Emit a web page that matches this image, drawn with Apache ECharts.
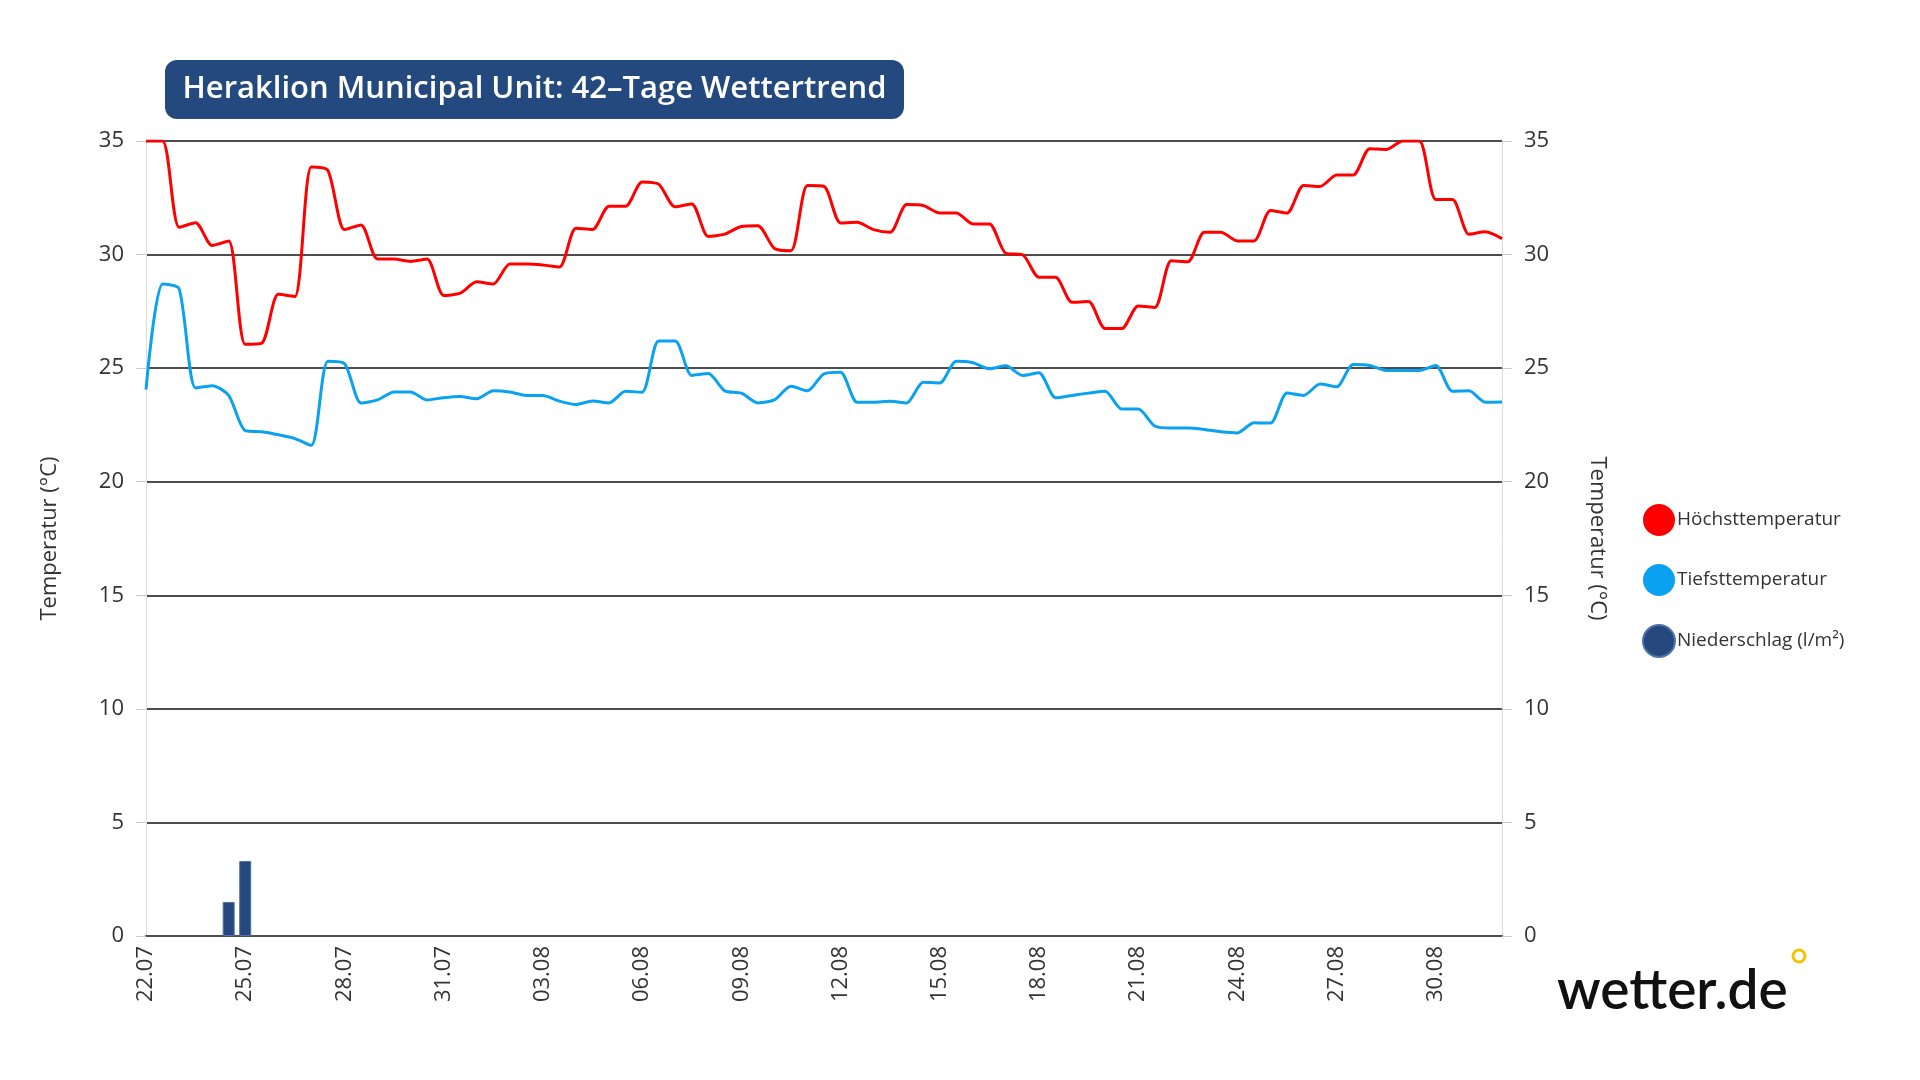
<!DOCTYPE html>
<html>
<head>
<meta charset="utf-8">
<title>Heraklion Municipal Unit: 42-Tage Wettertrend</title>
<script src="https://cdn.jsdelivr.net/npm/echarts@6/dist/echarts.min.js"></script>
<style>
  html, body { margin: 0; padding: 0; background: #fff; }
  #main { width: 1920px; height: 1080px; }
</style>
</head>
<body>
<div id="main"></div>
<script>
// Werte pro halbem Tag ab 22.07 (0, 0.5, 1, ... 41 Tage)
const hoechst = [
  35, 35, 31.2, 31.4, 30.4, 30.6, 26.05, 26.1, 28.25, 28.15,
  33.85, 33.7, 31.1, 31.3, 29.8, 29.8, 29.7, 29.8, 28.2, 28.3,
  28.8, 28.7, 29.58, 29.58, 29.54, 29.45, 31.16, 31.1, 32.13, 32.13,
  33.2, 33.1, 32.1, 32.23, 30.8, 30.9, 31.24, 31.27, 30.27, 30.17,
  33.04, 33.0, 31.39, 31.42, 31.1, 30.98, 32.2, 32.16, 31.83, 31.83,
  31.35, 31.35, 30.05, 30.0, 29.0, 29.0, 27.9, 27.93, 26.74, 26.74,
  27.74, 27.67, 29.73, 29.68, 30.98, 30.98, 30.6, 30.6, 31.94, 31.83,
  33.04, 33.0, 33.5, 33.5, 34.66, 34.63, 35, 35, 32.42, 32.42,
  30.9, 31.0, 30.7
];
const tiefst = [
  24.06, 28.7, 28.5, 24.13, 24.23, 23.8, 22.25, 22.2, 22.07, 21.9,
  21.6, 25.3, 25.2, 23.47, 23.6, 23.95, 23.95, 23.6, 23.7, 23.75,
  23.65, 24.0, 23.95, 23.8, 23.8, 23.55, 23.4, 23.55, 23.47, 23.98,
  23.94, 26.2, 26.2, 24.68, 24.76, 24.0, 23.9, 23.47, 23.6, 24.2,
  24.0, 24.75, 24.82, 23.5, 23.5, 23.54, 23.47, 24.38, 24.35, 25.3,
  25.24, 24.97, 25.1, 24.68, 24.8, 23.7, 23.8, 23.9, 23.98, 23.2,
  23.2, 22.45, 22.36, 22.36, 22.3, 22.2, 22.15, 22.6, 22.58, 23.91,
  23.8, 24.3, 24.18, 25.16, 25.12, 24.9, 24.9, 24.9, 25.12, 23.98,
  24.0, 23.5, 23.51
];
// Niederschlag: [Tag, l/m²]
const niederschlag = [[2.5, 1.5], [3, 3.3]];
const datumLabels = ['22.07', '25.07', '28.07', '31.07', '03.08', '06.08', '09.08',
  '12.08', '15.08', '18.08', '21.08', '24.08', '27.08', '30.08'];

const step = 0.5;
const toPairs = arr => arr.map((v, i) => [i * step, v]);

const font = '"Open Sans", Lato, sans-serif';
const chart = echarts.init(document.getElementById('main'));

const yAxisBase = {
  type: 'value',
  min: 0,
  max: 35,
  interval: 5,
  nameLocation: 'middle',
  nameTextStyle: { color: '#333', fontSize: 22, fontFamily: font },
  axisLine: { show: true, lineStyle: { color: '#dddddd', width: 1 } },
  axisTick: { show: true, length: 10, lineStyle: { color: '#cccccc' } },
  axisLabel: { color: '#333', fontSize: 22, fontFamily: font, margin: 22 },
  splitLine: { show: true, lineStyle: { color: '#4d4d4d', width: 2 } }
};

const option = {
  animation: false,
  backgroundColor: '#fff',
  grid: { left: 146, right: 418, top: 141, bottom: 144 },
  legend: {
    orient: 'vertical',
    left: 1637,
    top: 499,
    icon: 'circle',
    itemWidth: 32,
    itemHeight: 32,
    itemGap: 28,
    textStyle: { color: '#333', fontSize: 19, fontFamily: font, padding: [0, 0, 0, -3] },
    data: ['Höchsttemperatur', 'Tiefsttemperatur', 'Niederschlag (l/m²)']
  },
  xAxis: {
    type: 'value',
    min: 0,
    max: 41,
    interval: 3,
    axisLine: { show: true, onZero: false, lineStyle: { color: '#4d4d4d', width: 2 } },
    axisTick: { show: false },
    splitLine: { show: false },
    axisLabel: {
      rotate: 90,
      color: '#333',
      fontSize: 22,
      fontFamily: font,
      margin: 10,
      showMaxLabel: false,
      formatter: v => (v % 3 === 0 ? (datumLabels[v / 3] || '') : '')
    }
  },
  yAxis: [
    Object.assign({}, yAxisBase, { position: 'left', name: 'Temperatur (°C)', nameGap: 85, nameRotate: 90 }),
    Object.assign({}, yAxisBase, { position: 'right', name: 'Temperatur (°C)', nameGap: 84, nameRotate: -90 })
  ],
  series: [
    {
      name: 'Höchsttemperatur',
      type: 'line',
      data: toPairs(hoechst),
      smooth: 0.25,
      showSymbol: false,
      color: '#ff0000',
      lineStyle: { color: '#ff0000', width: 3 },
      z: 3
    },
    {
      name: 'Tiefsttemperatur',
      type: 'line',
      data: toPairs(tiefst),
      smooth: 0.25,
      showSymbol: false,
      color: '#0aa2f0',
      lineStyle: { color: '#0aa2f0', width: 3 },
      z: 3
    },
    {
      name: 'Niederschlag (l/m²)',
      type: 'bar',
      data: niederschlag,
      barWidth: 12,
      color: '#27487c',
      itemStyle: { color: '#27487c', borderColor: '#4f73a8', borderWidth: 1 },
      z: 2
    }
  ],
  graphic: [
    {
      type: 'group',
      left: 165,
      top: 60,
      children: [
        {
          type: 'rect',
          shape: { x: 0, y: 0, width: 739, height: 59, r: 12 },
          style: { fill: '#24497f' }
        },
        {
          type: 'text',
          x: 369.5,
          y: 29.5,
          style: {
            text: 'Heraklion Municipal Unit: 42–Tage Wettertrend',
            fill: '#ffffff',
            font: '600 31px "Open Sans", sans-serif',
            align: 'center',
            verticalAlign: 'middle'
          }
        }
      ]
    },
    {
      type: 'text',
      left: 1557,
      top: 964,
      style: {
        text: 'wetter.de',
        fill: '#111111',
        font: '600 55px Lato, sans-serif'
      }
    },
    {
      type: 'circle',
      shape: { cx: 1799, cy: 956, r: 6 },
      style: { fill: 'none', stroke: '#f5c400', lineWidth: 3 }
    }
  ]
};

chart.setOption(option);
</script>
</body>
</html>
